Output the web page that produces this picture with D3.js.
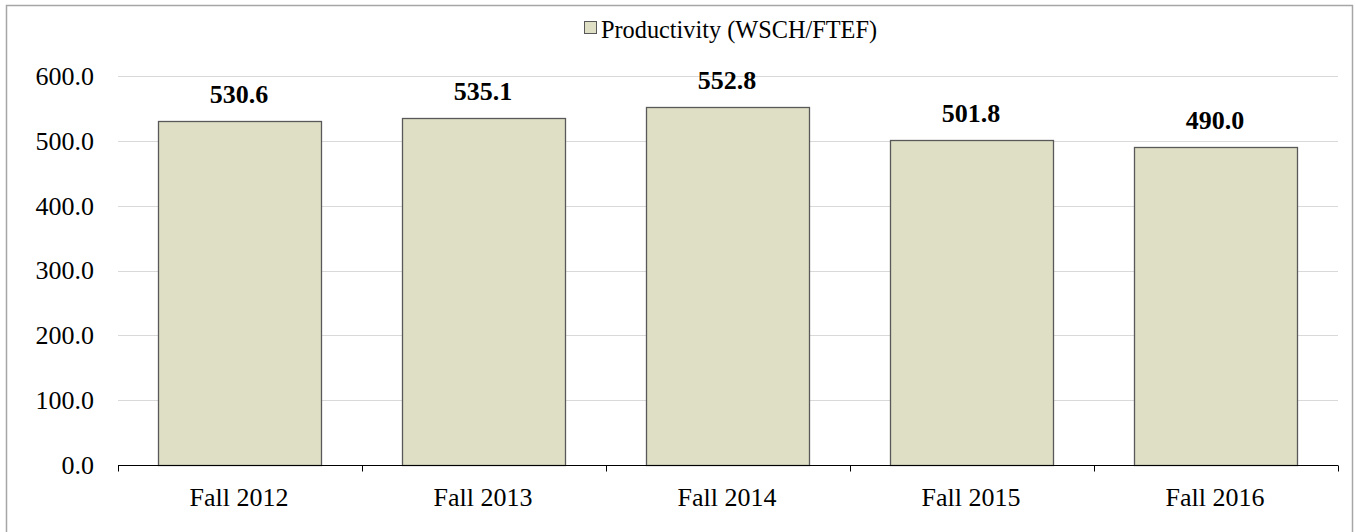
<!DOCTYPE html>
<html>
<head>
<meta charset="utf-8">
<script src="https://cdn.jsdelivr.net/npm/d3@7"></script>
<style>
  html, body { margin: 0; padding: 0; background: #fff; }
  svg { display: block; }
  text { font-family: "Liberation Serif", "Times New Roman", serif; }
</style>
</head>
<body>
<svg id="chart" width="1355" height="532"></svg>
<script>
const categories = ["Fall 2012", "Fall 2013", "Fall 2014", "Fall 2015", "Fall 2016"];
const values = [530.6, 535.1, 552.8, 501.8, 490.0];
const yTicks = [0, 100, 200, 300, 400, 500, 600];
const seriesName = "Productivity (WSCH/FTEF)";

const W = 1355, H = 532;
const margin = { left: 118, right: 17, top: 76, bottom: 67 };
const svg = d3.select("#chart");

// outer border
svg.append("rect")
  .attr("x", 6.5).attr("y", 5.5)
  .attr("width", 1346).attr("height", 540)
  .attr("fill", "#fff").attr("stroke", "#a6a6a6").attr("stroke-width", 1.5);

const x = d3.scaleBand().domain(categories)
  .range([margin.left, W - margin.right])
  .paddingInner(0.332).paddingOuter(0.166);
const y = d3.scaleLinear().domain([0, 600]).range([H - margin.bottom, margin.top]);

// gridlines
svg.append("g").selectAll("line").data(yTicks.filter(d => d > 0)).join("line")
  .attr("x1", margin.left).attr("x2", W - margin.right)
  .attr("y1", d => Math.round(y(d)) + 0.5).attr("y2", d => Math.round(y(d)) + 0.5)
  .attr("stroke", "#d9d9d9").attr("stroke-width", 1);

// y tick labels
svg.append("g").selectAll("text").data(yTicks).join("text")
  .attr("x", 94).attr("y", d => y(d))
  .attr("dy", "0.34em")
  .attr("text-anchor", "end")
  .attr("font-size", 26)
  .attr("fill", "#000")
  .text(d => d3.format(".1f")(d));

// bars
svg.append("g").selectAll("rect").data(values).join("rect")
  .attr("x", (d, i) => Math.round(x(categories[i])) - 0.5)
  .attr("y", d => Math.round(y(d)) + 0.5)
  .attr("width", x.bandwidth())
  .attr("height", d => Math.round(y(0)) - Math.round(y(d)))
  .attr("fill", "#dfdfc6")
  .attr("stroke", "#595959").attr("stroke-width", 1.3);

// value labels
svg.append("g").selectAll("text").data(values).join("text")
  .attr("x", (d, i) => x(categories[i]) + x.bandwidth() / 2 - 1)
  .attr("y", d => y(d) - 18)
  .attr("text-anchor", "middle")
  .attr("font-size", 26).attr("font-weight", "bold")
  .attr("fill", "#000")
  .text(d => d3.format(".1f")(d));

// x axis
const xAxisY = Math.round(y(0)) + 0.5;
const g = svg.append("g").attr("transform", `translate(0,${xAxisY})`);
g.append("line").attr("x1", margin.left).attr("x2", W - margin.right)
  .attr("stroke", "#000").attr("stroke-width", 1);
const bounds = categories.map(c => x(c) - x.step() * x.paddingInner() / 2);
bounds.push(W - margin.right);
bounds[0] = margin.left;
g.selectAll("line.tk").data(bounds).join("line").attr("class", "tk")
  .attr("x1", d => Math.round(d) + 0.5).attr("x2", d => Math.round(d) + 0.5)
  .attr("y1", 0).attr("y2", 6).attr("stroke", "#000");
g.selectAll("text").data(categories).join("text")
  .attr("x", d => x(d) + x.bandwidth() / 2 - 1)
  .attr("y", 40)
  .attr("text-anchor", "middle")
  .attr("font-size", 26).attr("fill", "#000")
  .text(d => d);

// legend
const lg = svg.append("g");
lg.append("rect").attr("x", 584.5).attr("y", 21.5).attr("width", 12).attr("height", 12)
  .attr("fill", "#dfdfc6").attr("stroke", "#595959").attr("stroke-width", 1);
lg.append("text").attr("x", 601).attr("y", 38)
  .attr("font-size", 24.3).attr("fill", "#000")
  .text(seriesName);
</script>
</body>
</html>
